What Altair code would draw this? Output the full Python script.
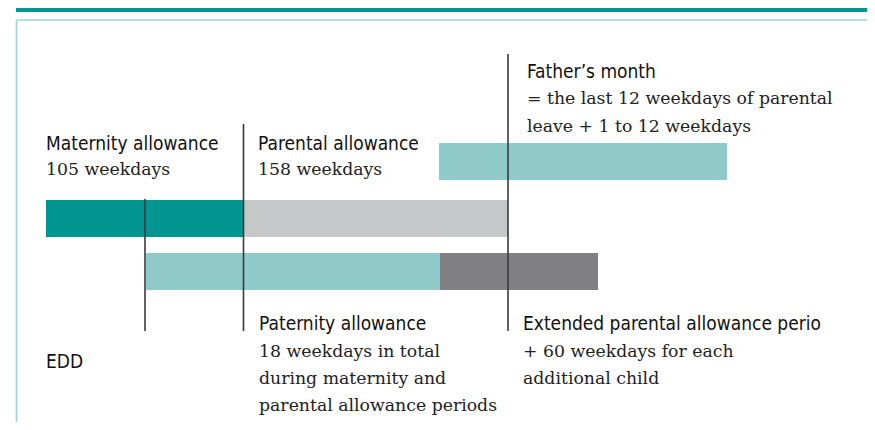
import altair as alt
import pandas as pd

# ---- data (timeline positions in diagram units) ----
bar_names = ["Maternity allowance", "Parental allowance", "Paternity allowance",
             "Extended parental allowance", "Father's month"]
bar_start = [46, 243, 146, 440, 439]
bar_end = [243, 508, 440, 598, 727]
bar_top = [200, 200, 253, 253, 143]
bar_bottom = [237, 237, 290, 290, 180]
bar_kind = ["maternity", "parental", "paternity", "extended", "father"]

marker_x = [145, 243.5, 508]
marker_top = [199, 124, 54]
marker_bottom = [331, 331, 331]

head_text = ["Maternity allowance", "Parental allowance", "Father\u2019s month",
             "Paternity allowance", "Extended parental allowance perio", "EDD"]
head_x = [46, 258, 527, 259, 523, 46]
head_y = [150, 150, 78, 330, 330, 368]

body_text = ["105 weekdays", "158 weekdays",
             "= the last 12 weekdays of parental", "leave + 1 to 12 weekdays",
             "18 weekdays in total", "during maternity and", "parental allowance periods",
             "+ 60 weekdays for each", "additional child"]
body_x = [46, 258, 527, 527, 259, 259, 259, 523, 523]
body_y = [175, 175, 104, 132, 357, 384, 411, 357, 384]

kinds = ["maternity", "parental", "paternity", "extended", "father"]
kind_colors = ["#00968f", "#c6c7c9", "#8fc9c9", "#808084", "#8fc9c9"]

W, H = 859, 414
xs = alt.Scale(domain=[8, 8 + W], nice=False, zero=False)
ys = alt.Scale(domain=[8, 8 + H], nice=False, zero=False, reverse=True)

bars_df = pd.DataFrame({"name": bar_names, "x": bar_start, "x2": bar_end,
                        "y": bar_top, "y2": bar_bottom, "kind": bar_kind})
rules_df = pd.DataFrame({"x": marker_x, "y": marker_top, "y2": marker_bottom})
head_df = pd.DataFrame({"t": head_text, "x": head_x, "y": head_y})
body_df = pd.DataFrame({"t": body_text, "x": body_x, "y": body_y})

frame_df = pd.DataFrame({"x": [16.5, 16.5], "x2": [875, 16.5], "y": [20, 20], "y2": [20, 430]})
header_df = pd.DataFrame({"x": [16], "x2": [875], "y": [0], "y2": [12]})

X = lambda f: alt.X(f, type="quantitative", scale=xs, axis=None)
Y = lambda f: alt.Y(f, type="quantitative", scale=ys, axis=None)

header = alt.Chart(header_df).mark_rect(color="#00968f", clip=True).encode(
    x=X("x"), x2="x2", y=Y("y"), y2="y2")

frame = alt.Chart(frame_df).mark_rule(color="#9fd3d3", strokeWidth=1.6).encode(
    x=X("x"), x2="x2", y=Y("y"), y2="y2")

bars = alt.Chart(bars_df).mark_rect().encode(
    x=X("x"), x2="x2", y=Y("y"), y2="y2",
    color=alt.Color("kind:N", scale=alt.Scale(domain=kinds, range=kind_colors), legend=None))

rules = alt.Chart(rules_df).mark_rule(color="#3a3a3a", strokeWidth=1.6).encode(
    x=X("x"), y=Y("y"), y2="y2")

heads = alt.Chart(head_df).mark_text(
    align="left", baseline="alphabetic", fontSize=19, color="#111111",
    font="DejaVu Sans Condensed, Liberation Sans Narrow, sans-serif").encode(
    x=X("x"), y=Y("y"), text="t:N")

body = alt.Chart(body_df).mark_text(
    align="left", baseline="alphabetic", fontSize=17.3, color="#222222",
    font="DejaVu Serif").encode(
    x=X("x"), y=Y("y"), text="t:N")

chart = alt.layer(header, frame, bars, rules, heads, body).properties(
    width=W, height=H, padding=0, autosize=alt.AutoSizeParams(type="none")
).configure_view(stroke=None)

chart.save("out.html", embed_options={"renderer": "svg", "actions": False})
